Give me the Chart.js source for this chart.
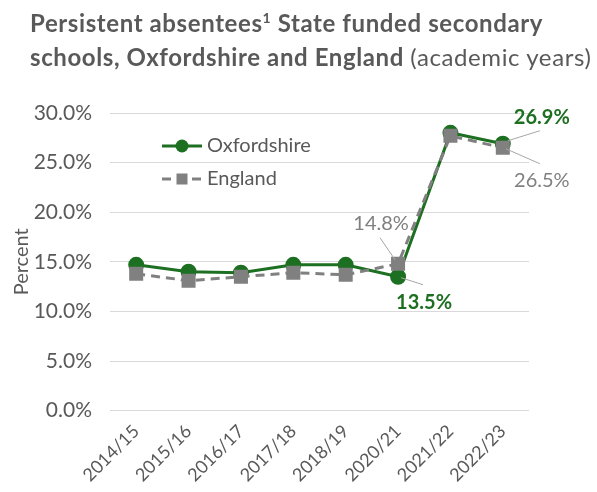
<!DOCTYPE html>
<html>
<head>
<meta charset="utf-8">
<script src="https://cdn.jsdelivr.net/npm/chart.js@4/dist/chart.umd.min.js"></script>
<style>
  html, body { margin: 0; padding: 0; background: #fff; }
  #wrap { position: relative; width: 597px; height: 492px; }
  #title {
    position: absolute; left: 30px; top: 6px; width: 580px; white-space: nowrap;
    font-family: Lato, "Open Sans", sans-serif; font-size: 24px; line-height: 34px;
    color: #595959; font-weight: bold; letter-spacing: 0.6px;
  }
  #title .n { font-weight: normal; }
  #title sup { font-size: 14px; vertical-align: 9px; line-height: 0; }
  canvas { position: absolute; left: 0; top: 0; }
</style>
</head>
<body>
<div id="wrap">
  <canvas id="c" width="597" height="492"></canvas>
  <div id="title">Persistent absentees<sup>1</sup> State funded secondary<br>schools, Oxfordshire and England <span class="n">(academic years)</span></div>
</div>
<script>
const years = ['2014/15', '2015/16', '2016/17', '2017/18', '2018/19', '2020/21', '2021/22', '2022/23'];
const oxfordshire = [14.7, 14.0, 13.9, 14.7, 14.7, 13.5, 28.0, 26.9];
const england = [13.8, 13.1, 13.5, 13.9, 13.7, 14.8, 27.7, 26.5];

const GREEN = '#1d6f22';
const GREY = '#808080';
const TEXT = '#595959';
const FONT = 'Lato, "Open Sans", sans-serif';

// labels on selected points: dataset, index, text offset, leader line from/to
const callouts = [
    { ds: 0, i: 7, dx: 39, dy: -26, l: [5, -3, 37, -13], bold: true, color: GREEN },
    { ds: 1, i: 7, dx: 39, dy: 33, l: [3, 1, 37, 16], bold: false, color: GREY },
    { ds: 1, i: 5, dx: -17, dy: -40, l: [-18, -26, -3, -4], bold: false, color: GREY },
    { ds: 0, i: 5, dx: 26, dy: 26, l: [3, 1, 25, 8], bold: true, color: GREEN }
];

const calloutPlugin = {
    id: 'callouts',
    afterDatasetsDraw(chart) {
        const ctx = chart.ctx;
        ctx.save();
        callouts.forEach(c => {
            const pt = chart.getDatasetMeta(c.ds).data[c.i];
            const val = chart.data.datasets[c.ds].data[c.i];
            ctx.strokeStyle = '#a6a6a6';
            ctx.lineWidth = 1;
            ctx.beginPath();
            ctx.moveTo(pt.x + c.l[0], pt.y + c.l[1]);
            ctx.lineTo(pt.x + c.l[2], pt.y + c.l[3]);
            ctx.stroke();
            ctx.fillStyle = c.color;
            ctx.font = (c.bold ? 'bold ' : '') + '20px ' + FONT;
            ctx.textAlign = 'center';
            ctx.textBaseline = 'middle';
            ctx.fillText(val.toFixed(1) + '%', pt.x + c.dx, pt.y + c.dy);
        });
        ctx.restore();
    }
};

const legendPlugin = {
    id: 'insideLegend',
    afterDraw(chart) {
        const ctx = chart.ctx;
        const x0 = chart.chartArea.left + 52;
        const rows = [chart.chartArea.top + 33, chart.chartArea.top + 66];
        ctx.save();
        chart.data.datasets.forEach((ds, k) => {
            const y = rows[k];
            ctx.strokeStyle = ds.borderColor;
            ctx.lineWidth = ds.borderWidth;
            ctx.setLineDash(ds.borderDash || []);
            ctx.beginPath();
            ctx.moveTo(x0, y);
            ctx.lineTo(x0 + 40, y);
            ctx.stroke();
            ctx.setLineDash([]);
            ctx.fillStyle = ds.pointBackgroundColor;
            if (ds.pointStyle === 'rect') {
                ctx.fillRect(x0 + 20 - 5.5, y - 5.5, 11, 11);
            } else {
                ctx.beginPath();
                ctx.arc(x0 + 20, y, 6.5, 0, Math.PI * 2);
                ctx.fill();
            }
            ctx.fillStyle = TEXT;
            ctx.font = '20px ' + FONT;
            ctx.textAlign = 'left';
            ctx.textBaseline = 'middle';
            ctx.fillText(ds.label, x0 + 45, y);
        });
        ctx.restore();
    }
};

new Chart(document.getElementById('c'), {
    type: 'line',
    data: {
        labels: years,
        datasets: [
            {
                label: 'Oxfordshire',
                data: oxfordshire,
                borderColor: GREEN,
                borderWidth: 3,
                pointStyle: 'circle',
                pointRadius: 6.5,
                pointBackgroundColor: GREEN,
                pointBorderColor: GREEN,
                order: 2
            },
            {
                label: 'England',
                data: england,
                borderColor: GREY,
                borderWidth: 3,
                borderDash: [9, 6],
                pointStyle: 'rect',
                pointRadius: 7.8,
                pointBackgroundColor: GREY,
                pointBorderColor: GREY,
                order: 1
            }
        ]
    },
    options: {
        responsive: false,
        animation: false,
        layout: { padding: { top: 113, right: 68, left: 8, bottom: 4 } },
        plugins: { legend: { display: false }, tooltip: { enabled: false } },
        scales: {
            x: {
                offset: true,
                grid: { display: false },
                border: { display: false },
                ticks: {
                    color: TEXT, font: { family: FONT, size: 18 },
                    maxRotation: 45, minRotation: 45, padding: 2
                }
            },
            y: {
                min: 0, max: 30,
                afterFit: scale => { scale.width = 102; },
                grid: { color: '#d9d9d9', drawTicks: false },
                border: { display: false },
                ticks: {
                    stepSize: 5, padding: 18, color: TEXT,
                    font: { family: FONT, size: 21 },
                    callback: v => v.toFixed(1) + '%'
                },
                title: { display: true, text: 'Percent', color: TEXT, font: { family: FONT, size: 20 }, padding: 2 }
            }
        }
    },
    plugins: [calloutPlugin, legendPlugin]
});
</script>
</body>
</html>
